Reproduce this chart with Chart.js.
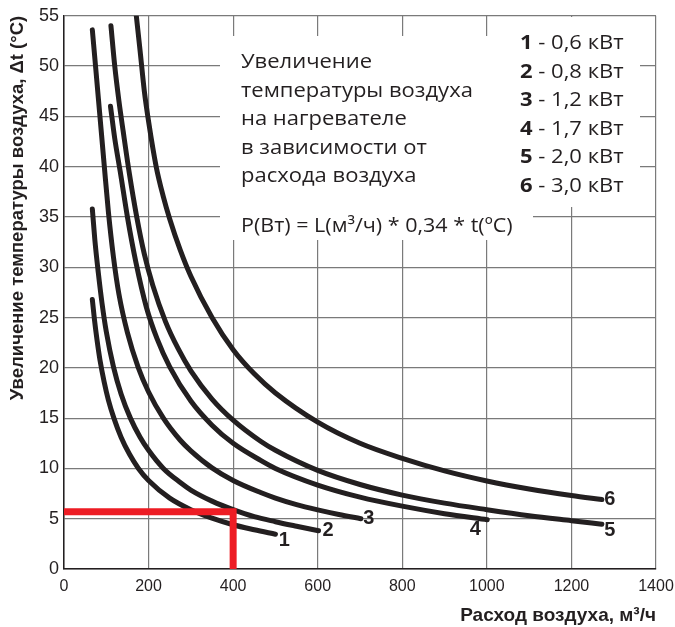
<!DOCTYPE html>
<html><head><meta charset="utf-8">
<script src="https://cdn.jsdelivr.net/npm/chart.js@4"></script>
<style>html,body{margin:0;padding:0;background:#fff}</style>
</head><body>
<canvas id="c" width="675" height="627"></canvas>
<script>
// ---- data: [air flow m3/h, temperature rise °C] ----
const curve1 = [[67,26.8],[72,24.8],[78,22.8],[85,20.8],[95,18.6],[105,16.8],[118,15],[135,13.1],[155,11.4],[176,10],[200,8.8],[250,7.05],[300,5.9],[350,5.05],[400,4.4],[450,3.9],[500,3.45]];
const curve2 = [[67,35.8],[73,32.7],[81,29.5],[90,26.4],[100,23.6],[117,20.1],[135,17.4],[157,15],[180,13.1],[200,11.8],[235,10],[275,8.6],[300,7.85],[350,6.75],[400,5.9],[450,5.2],[500,4.7],[550,4.25],[602,3.8]];
const curve3 = [[67,53.6],[75,49.8],[85,45],[95,40.2],[105,35.5],[117,31],[130,27.3],[150,23.5],[175,20.1],[200,17.6],[235,15],[275,12.8],[300,11.75],[350,10.05],[400,8.8],[465,7.6],[500,7.05],[550,6.4],[600,5.88],[650,5.42],[702,5.0]];
const curve4 = [[110,46],[120,42.8],[133,39.5],[150,35],[170,30.5],[195,26],[220,22.9],[250,20.1],[300,16.7],[350,14.3],[400,12.5],[465,10.8],[500,10],[600,8.35],[700,7.15],[800,6.25],[900,5.5],[1001,4.9]];
const curve5 = [[111,54],[120,50],[130,46.5],[140,43.5],[155,39.2],[172,35],[190,31.3],[210,28.2],[240,24.6],[270,21.9],[300,19.7],[350,16.9],[400,14.8],[465,12.7],[500,11.8],[600,9.8],[700,8.4],[800,7.35],[900,6.55],[1000,5.9],[1100,5.3],[1200,4.8],[1272,4.45]];
const curve6 = [[171,55],[180,51.5],[190,47.5],[200,44.5],[218,40],[235,37],[250,34.8],[275,31.7],[300,29.1],[350,25],[400,21.8],[450,19.4],[500,17.5],[600,14.6],[700,12.5],[800,11],[900,9.75],[1000,8.75],[1100,7.95],[1200,7.3],[1272,6.9]];
const examplePath = [[0,5.7],[400,5.7],[400,0]];

const curveNames = ['1','2','3','4','5','6'];
const legendPowers = ['0,6 кВт','0,8 кВт','1,2 кВт','1,7 кВт','2,0 кВт','3,0 кВт'];
const infoLines = ['Увеличение','температуры воздуха','на нагревателе','в зависимости от','расхода воздуха'];
const formulaText = 'P(Вт) = L(м³/ч) * 0,34 * t(ºC)';
const xTitle = 'Расход воздуха, м³/ч';
const yTitle = 'Увеличение температуры воздуха, Δt (°C)';
const xTickValues = [0,200,400,600,800,1000,1200,1400];
const yTickValues = [0,5,10,15,20,25,30,35,40,45,50,55];

// ---- styles / placement ----
const INK = '#231f20';
const labelOffsets = [[9,6],[9.5,0],[8,0],[-12,10],[8,6],[8,0]];

const curves = [curve1, curve2, curve3, curve4, curve5, curve6];
const toXY = a => a.map(p => ({x: p[0], y: p[1]}));

const datasets = [{
  label: 'example', data: toXY(examplePath), borderColor: '#ed1c24', borderWidth: 7,
  pointRadius: 0, tension: 0, borderCapStyle: 'butt', borderJoinStyle: 'miter', order: 0
}].concat(curves.map((c, i) => ({
  label: curveNames[i], data: toXY(c), borderColor: INK, borderWidth: 5,
  pointRadius: 0, cubicInterpolationMode: 'monotone', borderCapStyle: 'round',
  borderJoinStyle: 'round', order: 1
})));

function wideText(ctx, text, x, y, sx) {
  ctx.save();
  ctx.translate(x, y);
  ctx.scale(sx, 1);
  ctx.fillText(text, 0, 0);
  const w = ctx.measureText(text).width * sx;
  ctx.restore();
  return w;
}

const overlay = {
  id: 'overlay',
  beforeDatasetsDraw(chart) {
    const ctx = chart.ctx;
    ctx.save();
    ctx.fillStyle = '#fff';
    ctx.fillRect(220, 36, 313, 204);
    ctx.fillRect(505, 17, 135, 190);
    ctx.restore();
  },
  afterDatasetsDraw(chart) {
    const ctx = chart.ctx;
    const xs = chart.scales.x, ys = chart.scales.y;
    ctx.save();
    ctx.fillStyle = INK;
    ctx.textBaseline = 'alphabetic';
    ctx.textAlign = 'left';
    ctx.font = '20px "Open Sans"';
    const base = [68, 96.5, 125, 153.5, 182];
    infoLines.forEach((t, i) => wideText(ctx, t, 241, base[i], 1.1));
    wideText(ctx, formulaText, 241, 232, 1.075);
    // legend
    const lb = [49, 77.5, 106, 134.5, 163, 191.5];
    curveNames.forEach((n, i) => {
      ctx.font = 'bold 20px "Open Sans"';
      const w = wideText(ctx, n, 520, lb[i], 1.1);
      ctx.font = '20px "Open Sans"';
      wideText(ctx, ' - ' + legendPowers[i], 520 + w, lb[i], 1.1);
    });
    // curve end labels
    ctx.font = 'bold 20px "Liberation Sans"';
    ctx.textAlign = 'center';
    ctx.textBaseline = 'middle';
    curves.forEach((c, i) => {
      const last = c[c.length - 1];
      const px = xs.getPixelForValue(last[0]) + labelOffsets[i][0];
      const py = ys.getPixelForValue(last[1]) + labelOffsets[i][1];
      ctx.fillText(curveNames[i], px, py);
    });
    ctx.restore();
  }
};

new Chart(document.getElementById('c'), {
  type: 'line',
  data: { datasets },
  options: {
    responsive: false, animation: false, devicePixelRatio: 1,
    layout: { padding: { left: 0, top: 14, right: 19, bottom: 0 } },
    plugins: { legend: { display: false }, tooltip: { enabled: false } },
    scales: {
      x: {
        type: 'linear', min: 0, max: 1400,
        afterFit: s => { s.height = 58; },
        afterBuildTicks: s => { s.ticks = xTickValues.map(v => ({value: v})); },
        grid: { color: '#7a7a7a', lineWidth: 1.2, drawTicks: true, tickLength: 8, tickColor: 'rgba(0,0,0,0)' },
        border: { color: INK, width: 1.5 },
        ticks: { color: INK, padding: 0, font: { family: 'Liberation Sans', size: 16 }, maxRotation: 0,
          callback: v => String(v) },
        title: { display: true, text: xTitle, align: 'end', color: INK,
          font: { family: 'Liberation Sans', size: 19, weight: 'bold' }, padding: { top: 0, bottom: 0 } }
      },
      y: {
        type: 'linear', min: 0, max: 55,
        afterFit: s => { s.width = 64; },
        afterBuildTicks: s => { s.ticks = yTickValues.map(v => ({value: v})); },
        grid: { color: '#7a7a7a', lineWidth: 1.2, drawTicks: false },
        border: { color: INK, width: 1.5 },
        ticks: { color: INK, padding: 5, font: { family: 'Liberation Sans', size: 18 }, callback: v => String(v) },
        title: { display: true, text: yTitle, align: 'end', color: INK,
          font: { family: 'Liberation Sans', size: 18.5, weight: 'bold' }, padding: { top: 7, bottom: 0 } }
      }
    }
  },
  plugins: [overlay]
});
</script>
</body></html>
